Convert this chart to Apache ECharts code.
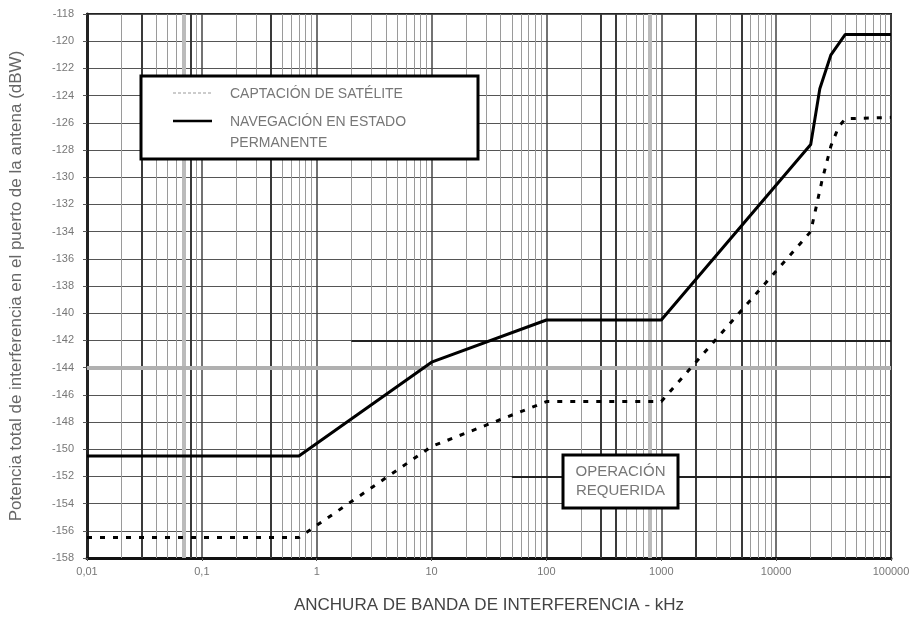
<!DOCTYPE html>
<html>
<head>
<meta charset="utf-8">
<script src="https://cdn.jsdelivr.net/npm/echarts@6/dist/echarts.min.js"></script>
<style>
  html, body { margin: 0; padding: 0; background: #fff; }
  #chart { width: 915px; height: 619px; }
</style>
</head>
<body>
<div id="chart"></div>
<script>
// Interference bandwidth (kHz) against total interference power at the antenna port (dBW)
const xTickLabels = ['0,01', '0,1', '1', '10', '100', '1000', '10000', '100000'];

// Steady-state navigation
const navBandwidth = [0.01, 0.7, 10, 100, 1000, 20000, 24000, 30000, 40000, 100000];
const navLevel     = [-150.5, -150.5, -143.6, -140.5, -140.5, -127.6, -123.5, -121.0, -119.5, -119.5];

// Satellite acquisition
const satBandwidth = [0.01, 0.7, 10, 100, 1000, 20000, 25000, 30000, 35000, 40000, 100000];
const satLevel     = [-156.5, -156.5, -149.8, -146.5, -146.5, -134.0, -130.3, -127.7, -126.3, -125.7, -125.6];

const pairs = (xs, ys) => xs.map((x, i) => [x, ys[i]]);

// log-paper rulings: 2..9 within each decade
const minorX = [];
for (let d = -2; d <= 4; d++) {
  for (let k = 2; k <= 9; k++) minorX.push(+(k * Math.pow(10, d)).toPrecision(3));
}
const heavyX = [0.03, 0.08, 0.4, 300, 400, 2000, 5000];
const bandX = [0.07, 800, 10000];

const gridMarks = [];
minorX.forEach(v => {
  if (heavyX.indexOf(v) >= 0) {
    gridMarks.push({ xAxis: v, lineStyle: { color: '#3a3a3a', width: 2, type: 'solid' } });
  } else if (bandX.indexOf(v) >= 0) {
    gridMarks.push({ xAxis: v, lineStyle: { color: '#bbb', width: 4, type: 'solid' } });
  } else {
    gridMarks.push({ xAxis: v, lineStyle: { color: '#9a9a9a', width: 1, type: 'solid' } });
  }
});
// emphasised horizontal rulings
gridMarks.push({ yAxis: -144, lineStyle: { color: '#b0b0b0', width: 4, type: 'solid' } });
gridMarks.push([{ coord: [2, -142], lineStyle: { color: '#222', width: 2, type: 'solid' } }, { coord: [100000, -142] }]);
gridMarks.push([{ coord: [50, -152], lineStyle: { color: '#222', width: 2, type: 'solid' } }, { coord: [100000, -152] }]);

const boxFont = size => size + 'px "Liberation Sans", Arial, sans-serif';

const chart = echarts.init(document.getElementById('chart'), null, { renderer: 'canvas' });

const option = {
  animation: false,
  backgroundColor: '#fff',
  textStyle: { fontFamily: 'Liberation Sans, Arial, sans-serif' },
  grid: {
    left: 86, right: 24, top: 14, bottom: 57,
    show: true, borderColor: '#222', borderWidth: 2, backgroundColor: 'transparent'
  },
  xAxis: {
    type: 'log',
    logBase: 10,
    min: 0.01,
    max: 100000,
    name: 'ANCHURA DE BANDA DE INTERFERENCIA - kHz',
    nameLocation: 'middle',
    nameGap: 39,
    nameTextStyle: { fontSize: 17, color: '#444' },
    axisLine: { show: true, lineStyle: { color: '#111', width: 3 } },
    axisTick: { show: true, length: 3, lineStyle: { color: '#555' } },
    axisLabel: {
      fontSize: 11, color: '#777', margin: 8,
      formatter: v => xTickLabels[Math.round(Math.log10(v)) + 2]
    },
    splitLine: { show: true, lineStyle: { color: '#444', width: 1.5 } }
  },
  yAxis: {
    type: 'value',
    min: -158,
    max: -118,
    interval: 2,
    name: 'Potencia total de interferencia en el puerto de la antena (dBW)',
    nameLocation: 'middle',
    nameGap: 62,
    nameRotate: 90,
    nameTextStyle: { fontSize: 17, color: '#666' },
    axisLine: { show: true, lineStyle: { color: '#222', width: 3 } },
    axisTick: { show: true, length: 4, lineStyle: { color: '#555' } },
    axisLabel: { fontSize: 11, color: '#777', margin: 13 },
    splitLine: { show: true, lineStyle: { color: '#555', width: 1.2 } }
  },
  series: [
    {
      name: 'rulings',
      type: 'line',
      data: [],
      silent: true,
      z: 1,
      markLine: {
        silent: true,
        symbol: 'none',
        label: { show: false },
        animation: false,
        data: gridMarks
      }
    },
    {
      name: 'CAPTACIÓN DE SATÉLITE',
      type: 'line',
      data: pairs(satBandwidth, satLevel),
      showSymbol: false,
      z: 5,
      lineStyle: { color: '#000', width: 3, type: [5, 8] }
    },
    {
      name: 'NAVEGACIÓN EN ESTADO PERMANENTE',
      type: 'line',
      data: pairs(navBandwidth, navLevel),
      showSymbol: false,
      z: 6,
      lineStyle: { color: '#000', width: 3 }
    }
  ],
  graphic: [
    // legend box
    { type: 'rect', z: 100, shape: { x: 141, y: 76, width: 337, height: 83 },
      style: { fill: '#fff', stroke: '#000', lineWidth: 3 } },
    { type: 'line', z: 101, shape: { x1: 173, y1: 93, x2: 212, y2: 93 },
      style: { stroke: '#999', lineWidth: 1, lineDash: [3, 2] } },
    { type: 'text', z: 101, x: 230, y: 94,
      style: { text: 'CAPTACIÓN DE SATÉLITE', fill: '#777', font: boxFont(14), verticalAlign: 'middle' } },
    { type: 'line', z: 101, shape: { x1: 173, y1: 121, x2: 212, y2: 121 },
      style: { stroke: '#000', lineWidth: 2.5 } },
    { type: 'text', z: 101, x: 230, y: 122,
      style: { text: 'NAVEGACIÓN EN ESTADO', fill: '#777', font: boxFont(14), verticalAlign: 'middle' } },
    { type: 'text', z: 101, x: 230, y: 143,
      style: { text: 'PERMANENTE', fill: '#777', font: boxFont(14), verticalAlign: 'middle' } },
    // required-operation box
    { type: 'rect', z: 100, shape: { x: 563, y: 455, width: 115, height: 53 },
      style: { fill: '#fff', stroke: '#000', lineWidth: 3 } },
    { type: 'text', z: 101, x: 620.5, y: 472,
      style: { text: 'OPERACIÓN', fill: '#777', font: boxFont(15), align: 'center', verticalAlign: 'middle' } },
    { type: 'text', z: 101, x: 620.5, y: 491,
      style: { text: 'REQUERIDA', fill: '#777', font: boxFont(15), align: 'center', verticalAlign: 'middle' } }
  ]
};

chart.setOption(option);
</script>
</body>
</html>
